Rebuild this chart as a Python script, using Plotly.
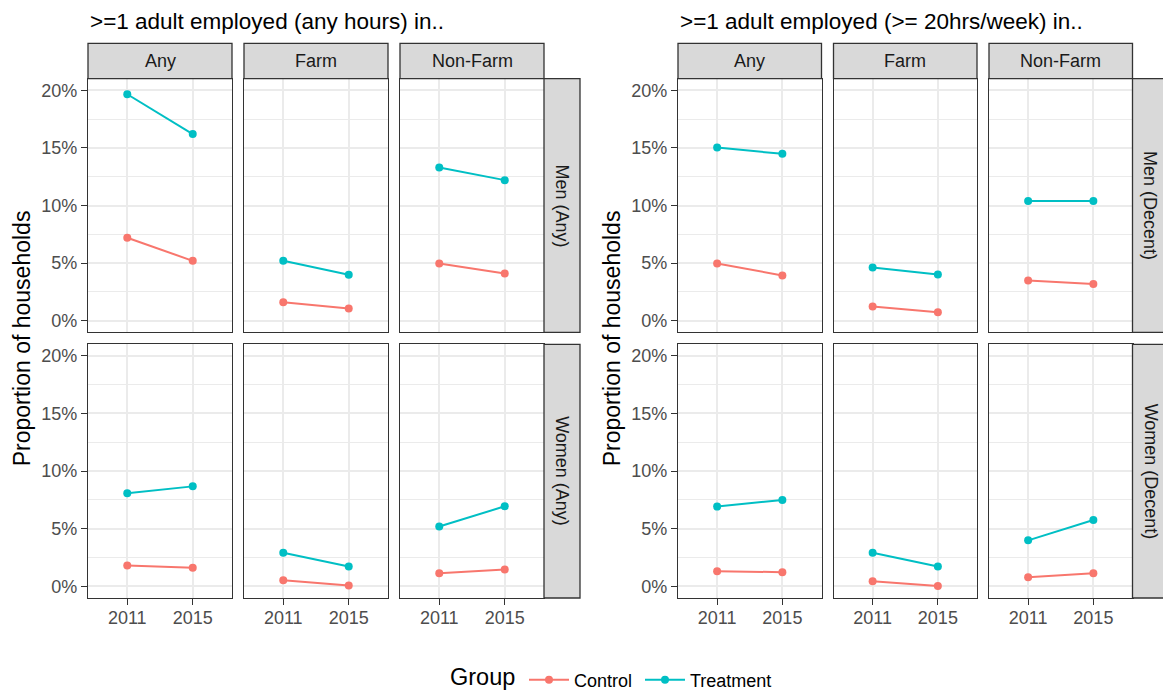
import plotly.graph_objects as go

# ---- data (percent of households) ----
years = ["2011", "2015"]
job_types = ["Any", "Farm", "Non-Farm"]
groups = ["Control", "Treatment"]
grid_titles = [">=1 adult employed (any hours) in..", ">=1 adult employed (>= 20hrs/week) in.."]
row_labels_any = ["Men (Any)", "Women (Any)"]
row_labels_decent = ["Men (Decent)", "Women (Decent)"]
y_ticks = [0, 5, 10, 15, 20]
y_tick_text = ["0%", "5%", "10%", "15%", "20%"]

# any hours: one [2011, 2015] pair per job type (Any, Farm, Non-Farm)
anyhrs_men_control = [[7.2, 5.2], [1.6, 1.07], [4.97, 4.1]]
anyhrs_men_treatment = [[19.65, 16.2], [5.2, 4.0], [13.3, 12.2]]
anyhrs_women_control = [[1.82, 1.62], [0.55, 0.09], [1.15, 1.47]]
anyhrs_women_treatment = [[8.08, 8.68], [2.92, 1.73], [5.2, 6.95]]

# >= 20 hours per week
decent_men_control = [[4.97, 3.93], [1.24, 0.75], [3.5, 3.18]]
decent_men_treatment = [[15.03, 14.48], [4.62, 4.01], [10.4, 10.4]]
decent_women_control = [[1.33, 1.24], [0.46, 0.03], [0.8, 1.15]]
decent_women_treatment = [[6.93, 7.5], [2.92, 1.73], [4.0, 5.77]]

# ---- layout geometry (pixels) ----
W, H = 1163, 691
grid_cols = [
    [(88, 232), (244, 388), (400, 544)],
    [(678, 821.5), (833.5, 977), (989, 1132.5)],
]
row_strip_w = 36
rows_y = [(78.7, 332.3), (344.3, 598.0)]
col_strip_y = (43.3, 78.7)

COLORS = {"Control": "#F8766D", "Treatment": "#00BFC4"}
LEGEND_OF = {"Control": "legend", "Treatment": "legend2"}
BORDER = "#333333"
GRID = "#EBEBEB"
STRIP_FILL = "#D9D9D9"
FONT = "Liberation Sans, Arial, sans-serif"


def px_x(v):
    return v / W


def px_y(v):
    return 1 - v / H


series = [
    [
        {"Control": anyhrs_men_control, "Treatment": anyhrs_men_treatment},
        {"Control": anyhrs_women_control, "Treatment": anyhrs_women_treatment},
    ],
    [
        {"Control": decent_men_control, "Treatment": decent_men_treatment},
        {"Control": decent_women_control, "Treatment": decent_women_treatment},
    ],
]
row_labels = [row_labels_any, row_labels_decent]

fig = go.Figure()
layout_axes = {}
shapes = []
annotations = []

idx = 0
for g in range(2):
    for r in range(2):
        for c in range(3):
            idx += 1
            xa = "x" if idx == 1 else f"x{idx}"
            ya = "y" if idx == 1 else f"y{idx}"
            x0, x1 = grid_cols[g][c]
            y0, y1 = rows_y[r]
            first_col = c == 0
            bottom_row = r == 1

            layout_axes["xaxis" if idx == 1 else f"xaxis{idx}"] = dict(
                domain=[px_x(x0), px_x(x1)],
                anchor=ya,
                type="category",
                categoryorder="array",
                categoryarray=years,
                range=[-0.6, 1.6],
                showgrid=True,
                gridcolor=GRID,
                gridwidth=2,
                showline=True,
                mirror=True,
                linecolor=BORDER,
                linewidth=1.3,
                zeroline=False,
                ticks="outside" if bottom_row else "",
                ticklen=6,
                tickwidth=1.3,
                tickcolor=BORDER,
                showticklabels=bottom_row,
                ticklabelstandoff=-3,
                tickfont=dict(family=FONT, size=18, color="#4D4D4D"),
                fixedrange=True,
            )
            layout_axes["yaxis" if idx == 1 else f"yaxis{idx}"] = dict(
                domain=[px_y(y1), px_y(y0)],
                anchor=xa,
                range=[-1, 21],
                tickvals=y_ticks,
                ticktext=y_tick_text,
                showgrid=True,
                gridcolor=GRID,
                gridwidth=2,
                minor=dict(
                    tickvals=[2.5, 7.5, 12.5, 17.5],
                    showgrid=True,
                    gridcolor=GRID,
                    gridwidth=1.1,
                    ticks="",
                ),
                showline=True,
                mirror=True,
                linecolor=BORDER,
                linewidth=1.3,
                zeroline=False,
                ticks="outside" if first_col else "",
                ticklen=6,
                tickwidth=1.3,
                tickcolor=BORDER,
                showticklabels=first_col,
                tickfont=dict(family=FONT, size=18, color="#4D4D4D"),
                fixedrange=True,
            )

            for grp in groups:
                vals = series[g][r][grp][c]
                fig.add_trace(
                    go.Scatter(
                        x=years,
                        y=vals,
                        xaxis=xa,
                        yaxis=ya,
                        mode="lines+markers",
                        name=grp,
                        legendgroup=grp,
                        legend=LEGEND_OF[grp],
                        showlegend=(idx == 1),
                        line=dict(color=COLORS[grp], width=2),
                        marker=dict(color=COLORS[grp], size=8),
                        cliponaxis=False,
                    )
                )

            # column strip on top row
            if r == 0:
                shapes.append(dict(
                    type="rect", xref="paper", yref="paper",
                    x0=px_x(x0), x1=px_x(x1),
                    y0=px_y(col_strip_y[1]), y1=px_y(col_strip_y[0]),
                    fillcolor=STRIP_FILL, line=dict(color=BORDER, width=1.3),
                ))
                annotations.append(dict(
                    text=job_types[c], xref="paper", yref="paper",
                    x=px_x((x0 + x1) / 2), y=px_y(sum(col_strip_y) / 2),
                    xanchor="center", yanchor="middle", showarrow=False,
                    font=dict(family=FONT, size=18, color="#1A1A1A"),
                ))

        # row strip on the right of the last column
        sx0 = grid_cols[g][2][1]
        sx1 = sx0 + row_strip_w
        y0, y1 = rows_y[r]
        shapes.append(dict(
            type="rect", xref="paper", yref="paper",
            x0=px_x(sx0), x1=px_x(sx1),
            y0=px_y(y1), y1=px_y(y0),
            fillcolor=STRIP_FILL, line=dict(color=BORDER, width=1.3),
        ))
        annotations.append(dict(
            text=row_labels[g][r], xref="paper", yref="paper",
            x=px_x((sx0 + sx1) / 2), y=px_y((y0 + y1) / 2),
            xanchor="center", yanchor="middle", showarrow=False, textangle=90,
            font=dict(family=FONT, size=18, color="#1A1A1A"),
        ))

    # grid title and y-axis title
    gx0 = grid_cols[g][0][0]
    annotations.append(dict(
        text=grid_titles[g], xref="paper", yref="paper",
        x=px_x(gx0), y=px_y(21), xanchor="left", yanchor="middle",
        showarrow=False, font=dict(family=FONT, size=22.5, color="#000000"),
    ))
    annotations.append(dict(
        text="Proportion of households", xref="paper", yref="paper",
        x=px_x(gx0 - 66), y=px_y((rows_y[0][0] + rows_y[1][1]) / 2),
        xanchor="center", yanchor="middle", showarrow=False, textangle=-90,
        font=dict(family=FONT, size=23, color="#000000"),
    ))

# legend title
annotations.append(dict(
    text="Group", xref="paper", yref="paper",
    x=px_x(449), y=px_y(676.5), xanchor="left", yanchor="middle",
    showarrow=False, borderpad=0,
    font=dict(family=FONT, size=23.5, color="#000000"),
))

legend_common = dict(
    orientation="h",
    xanchor="left",
    yanchor="middle",
    font=dict(family=FONT, size=18, color="#000000"),
    bgcolor="rgba(0,0,0,0)",
    itemwidth=40,
)

fig.update_layout(
    width=W,
    height=H,
    autosize=False,
    margin=dict(l=0, r=0, t=0, b=0, autoexpand=False),
    paper_bgcolor="white",
    plot_bgcolor="white",
    shapes=shapes,
    annotations=annotations,
    showlegend=True,
    legend=dict(x=px_x(524), y=px_y(680), **legend_common),
    legend2=dict(x=px_x(640), y=px_y(680), **legend_common),
    **layout_axes,
)

fig.write_html("out.html")
